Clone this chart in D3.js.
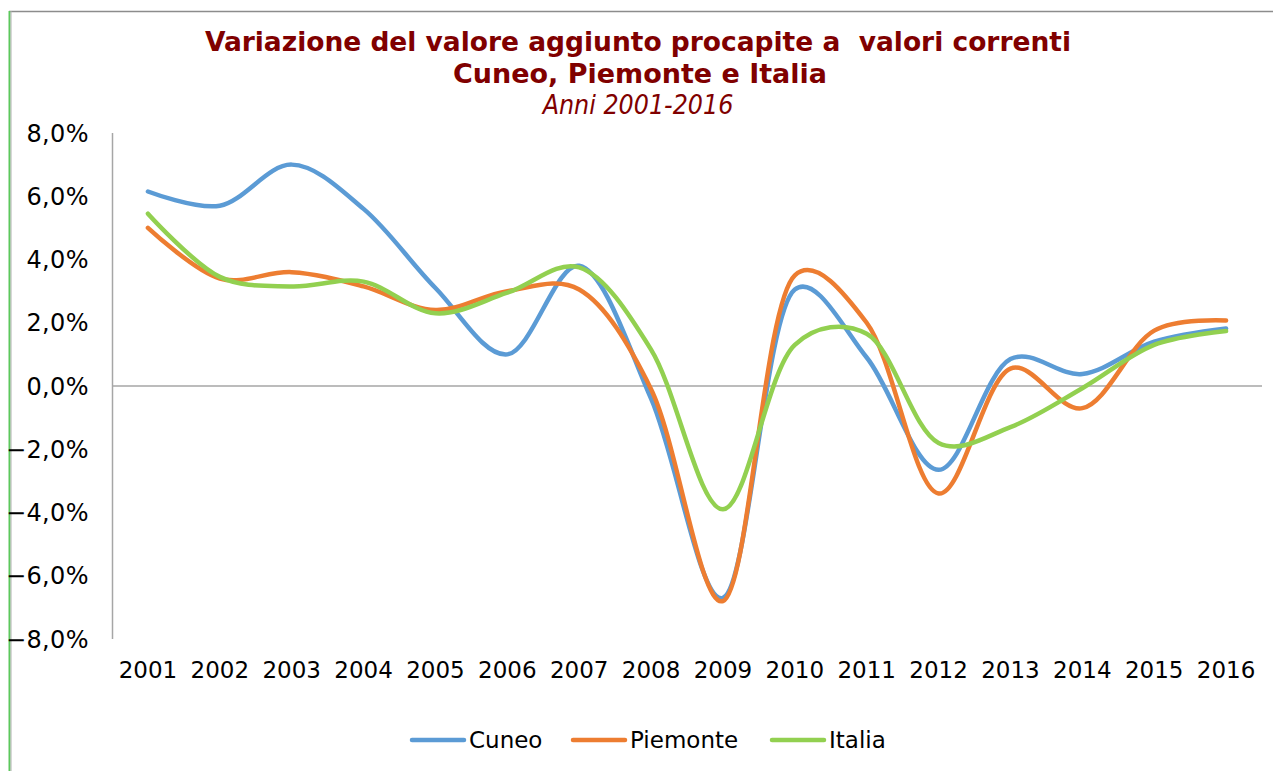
<!DOCTYPE html>
<html>
<head>
<meta charset="utf-8">
<script src="https://cdn.jsdelivr.net/npm/d3@7"></script>
<style>
  body { margin: 0; background: #fff; }
  svg { display: block; font-family: "DejaVu Sans", Verdana, sans-serif; }
</style>
</head>
<body>
<svg id="chart" width="1273" height="771"></svg>
<script>
    //////////// DATA ////////////

    var years = ["2001", "2002", "2003", "2004", "2005", "2006", "2007", "2008",
                 "2009", "2010", "2011", "2012", "2013", "2014", "2015", "2016"];

    // percent changes
    var cuneo    = [6.15, 5.7, 7.0, 5.6, 3.1, 1.0, 3.8, -0.4, -6.7, 3.05, 0.9, -2.65, 0.85, 0.38, 1.4, 1.82];
    var piemonte = [5.0, 3.4, 3.6, 3.15, 2.4, 3.0, 3.05, -0.1, -6.8, 3.5, 2.0, -3.4, 0.55, -0.7, 1.75, 2.07];
    var italia   = [5.45, 3.45, 3.15, 3.3, 2.3, 2.95, 3.75, 1.15, -3.9, 1.3, 1.65, -1.8, -1.3, -0.07, 1.3, 1.74];

    var yTicks = [8, 6, 4, 2, 0, -2, -4, -6, -8];

    var seriesNames = ["Cuneo", "Piemonte", "Italia"];
    var seriesColors = ["#5b9bd5", "#ed7d31", "#92d050"];

    var series = [cuneo, piemonte, italia].map(function (vals, i) {
        return { name: seriesNames[i], color: seriesColors[i], values: vals };
    });

    //////////// SETUP ////////////

    var svg = d3.select("#chart");

    var x = d3.scaleBand()
        .domain(years)
        .range([112, 1262]);

    var y = d3.scaleLinear()
        .domain([-8, 8])
        .range([639, 133]);

    var fmt = function (d) {
        return d3.format(".1f")(d).replace(".", ",") + "%";
    };

    // frame: grey top edge, green left edge
    svg.append("line")
        .attr("x1", 9).attr("x2", 1273)
        .attr("y1", 11.5).attr("y2", 11.5)
        .attr("stroke", "#8c8c8c").attr("stroke-width", 1.5);
    svg.append("line")
        .attr("x1", 9.5).attr("x2", 9.5)
        .attr("y1", 11).attr("y2", 771)
        .attr("stroke", "#5cc85c").attr("stroke-width", 2);
    svg.append("line")
        .attr("x1", 11).attr("x2", 11)
        .attr("y1", 11).attr("y2", 771)
        .attr("stroke", "#b0b0b0").attr("stroke-width", 1);

    //////////// TITLE ////////////

    var titleColor = "#800000";
    var titleFont = "'DejaVu Sans Condensed', 'DejaVu Sans', sans-serif";
    svg.append("text")
        .attr("x", 638).attr("y", 51)
        .attr("text-anchor", "middle")
        .attr("fill", titleColor)
        .attr("xml:space", "preserve")
        .attr("textLength", 866)
        .attr("lengthAdjust", "spacingAndGlyphs")
        .style("font-family", titleFont)
        .style("font-weight", "bold")
        .style("font-size", "27px")
        .text("Variazione del valore aggiunto procapite a  valori correnti");
    svg.append("text")
        .attr("x", 640).attr("y", 83)
        .attr("text-anchor", "middle")
        .attr("fill", titleColor)
        .attr("textLength", 374)
        .attr("lengthAdjust", "spacingAndGlyphs")
        .style("font-family", titleFont)
        .style("font-weight", "bold")
        .style("font-size", "27px")
        .text("Cuneo, Piemonte e Italia");
    svg.append("text")
        .attr("x", 638).attr("y", 114)
        .attr("text-anchor", "middle")
        .attr("fill", titleColor)
        .style("font-family", titleFont)
        .style("font-style", "italic")
        .style("font-size", "26.5px")
        .text("Anni 2001-2016");

    //////////// AXES ////////////

    // y axis labels
    svg.append("g")
        .selectAll("text")
        .data(yTicks)
        .enter().append("text")
        .attr("x", 89)
        .attr("y", function (d) { return y(d); })
        .attr("dy", "0.36em")
        .attr("text-anchor", "end")
        .style("font-size", "24px")
        .style("letter-spacing", "0.4px")
        .attr("fill", "#000")
        .text(fmt);

    // y axis line
    svg.append("line")
        .attr("x1", 112.5).attr("x2", 112.5)
        .attr("y1", y(8)).attr("y2", y(-8))
        .attr("stroke", "#a6a6a6").attr("stroke-width", 1.5);

    // zero line (category axis)
    svg.append("line")
        .attr("x1", 112).attr("x2", 1262)
        .attr("y1", y(0)).attr("y2", y(0))
        .attr("stroke", "#a6a6a6").attr("stroke-width", 1.5);

    // category labels
    svg.append("g")
        .selectAll("text")
        .data(years)
        .enter().append("text")
        .attr("x", function (d) { return x(d) + x.bandwidth() / 2; })
        .attr("y", 678)
        .attr("text-anchor", "middle")
        .style("font-size", "23px")
        .attr("fill", "#000")
        .text(function (d) { return d; });

    //////////// LINES ////////////

    // catmull-rom, close to the spreadsheet's smoothed lines
    var line = d3.line()
        .x(function (d, i) { return x(years[i]) + x.bandwidth() / 2; })
        .y(function (d) { return y(d); })
        .curve(d3.curveCatmullRom.alpha(0.3));

    svg.append("g")
        .attr("class", "lines")
        .selectAll("path")
        .data(series)
        .enter().append("path")
        .attr("d", function (d) { return line(d.values); })
        .attr("fill", "none")
        .attr("stroke", function (d) { return d.color; })
        .attr("stroke-width", 4.5)
        .attr("stroke-linecap", "round")
        .attr("stroke-linejoin", "round");

    //////////// LEGEND ////////////

    var legendX = [412, 573, 772];
    var legend = svg.append("g")
        .selectAll("g")
        .data(series)
        .enter().append("g")
        .attr("transform", function (d, i) { return "translate(" + legendX[i] + ",740)"; });

    legend.append("line")
        .attr("x1", 0).attr("x2", 52)
        .attr("y1", 0).attr("y2", 0)
        .attr("stroke", function (d) { return d.color; })
        .attr("stroke-width", 4.5)
        .attr("stroke-linecap", "round");

    legend.append("text")
        .attr("x", 57)
        .attr("dy", "0.36em")
        .style("font-size", "23px")
        .attr("fill", "#000")
        .text(function (d) { return d.name; });
</script>
</body>
</html>
